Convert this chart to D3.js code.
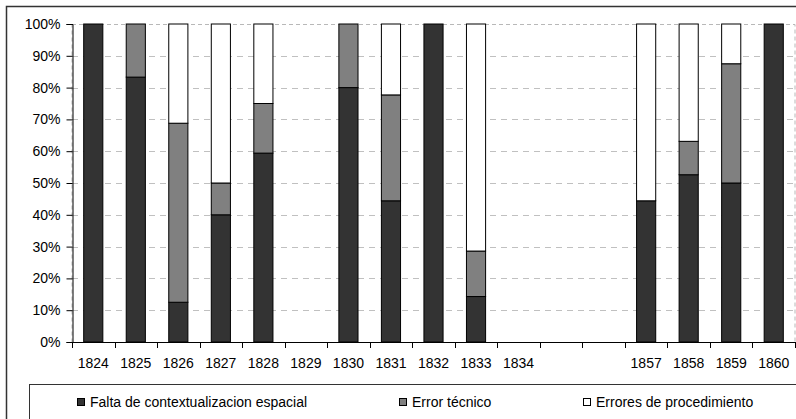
<!DOCTYPE html>
<html>
<head>
<meta charset="utf-8">
<script src="https://cdn.jsdelivr.net/npm/d3@7"></script>
<style>
  body { margin: 0; background: #fff; }
  svg { display: block; font-family: "Liberation Sans", Arial, sans-serif; }
</style>
</head>
<body>
<svg id="chart" width="796" height="419"></svg>
<script>
// years (two empty slots between 1834 and 1857)
const years = ['1824', '1825', '1826', '1827', '1828', '1829', '1830', '1831', '1832', '1833', '1834', '', '', '1857', '1858', '1859', '1860'];
const falta = [100, 83.3, 12.5, 40, 59.4, 0, 80, 44.4, 100, 14.3, 0, 0, 0, 44.4, 52.6, 50, 100];
const tecnico = [0, 16.7, 56.3, 10, 15.6, 0, 20, 33.3, 0, 14.3, 0, 0, 0, 0, 10.5, 37.5, 0];
const procedimiento = [0, 0, 31.2, 50, 25, 0, 0, 22.3, 0, 71.4, 0, 0, 0, 55.6, 36.9, 12.5, 0];
const yTicks = [0, 10, 20, 30, 40, 50, 60, 70, 80, 90, 100];

const seriesNames = ['Falta de contextualizacion espacial', 'Error técnico', 'Errores de procedimiento'];
const colors = ['#333333', '#808080', '#ffffff'];

const rows = years.map((yr, i) => ({ i, falta: falta[i], tecnico: tecnico[i], procedimiento: procedimiento[i] }));
const stack = d3.stack().keys(['falta', 'tecnico', 'procedimiento']);
const stacked = stack(rows);

const FONT = 14;
const svg = d3.select('#chart');

// outer chart border
svg.append('rect')
  .attr('x', 6.5).attr('y', 6.5)
  .attr('width', 800).attr('height', 420)
  .attr('fill', 'none').attr('stroke', '#333').attr('stroke-width', 1.5);

const x = d3.scaleBand().domain(d3.range(years.length)).range([72, 795]).padding(0);
const y = d3.scaleLinear().domain([0, 100]).range([342, 24]);

// plot area border (dashed)
svg.append('rect')
  .attr('x', 72).attr('y', y(100) + 0.5)
  .attr('width', 723).attr('height', y(0) - y(100))
  .attr('fill', 'none').attr('stroke', '#b8b8b8').attr('stroke-dasharray', '4,3');

// grid
svg.append('g').selectAll('line')
  .data(yTicks.filter(d => d > 0 && d < 100))
  .join('line')
  .attr('x1', 72).attr('x2', 795)
  .attr('y1', d => Math.round(y(d)) + 0.5).attr('y2', d => Math.round(y(d)) + 0.5)
  .attr('stroke', '#c0c0c0').attr('stroke-dasharray', '6,5');

// bars
const barW = x.bandwidth() * 0.45;
svg.append('g').selectAll('g')
  .data(stacked)
  .join('g')
  .attr('fill', (d, k) => colors[k])
  .selectAll('rect')
  .data(d => d.filter(s => s[1] - s[0] > 0))
  .join('rect')
  .attr('x', s => x(s.data.i) + (x.bandwidth() - barW) / 2)
  .attr('y', s => y(s[1]))
  .attr('width', barW)
  .attr('height', s => y(s[0]) - y(s[1]))
  .attr('stroke', '#000').attr('stroke-width', 1);

// y axis
const yAxis = svg.append('g')
  .attr('transform', 'translate(72.5,0)')
  .call(d3.axisLeft(y).tickValues(yTicks).tickSize(6).tickPadding(6).tickFormat(d => d + '%'));
yAxis.select('.domain').attr('stroke', '#000');
yAxis.selectAll('text').attr('font-size', FONT).attr('fill', '#000').attr('font-family', 'Liberation Sans, Arial, sans-serif');

// x axis: line, ticks at category boundaries, centered labels
const xg = svg.append('g');
xg.append('line')
  .attr('x1', 72).attr('x2', 795)
  .attr('y1', 342.5).attr('y2', 342.5)
  .attr('stroke', '#000');
xg.selectAll('line.tick')
  .data(d3.range(years.length + 1))
  .join('line')
  .attr('class', 'tick')
  .attr('x1', i => Math.round(i < years.length ? x(i) : x(i - 1) + x.bandwidth()) + 0.5)
  .attr('x2', i => Math.round(i < years.length ? x(i) : x(i - 1) + x.bandwidth()) + 0.5)
  .attr('y1', 342).attr('y2', 348)
  .attr('stroke', '#000');
xg.selectAll('text')
  .data(years)
  .join('text')
  .attr('x', (d, i) => x(i) + x.bandwidth() / 2)
  .attr('y', 368)
  .attr('text-anchor', 'middle')
  .attr('font-size', FONT)
  .text(d => d);

// legend
svg.append('rect')
  .attr('x', 29.5).attr('y', 384.5)
  .attr('width', 800).attr('height', 60)
  .attr('fill', '#fff').attr('stroke', '#333').attr('stroke-width', 1);

const legendX = [77, 399, 583];
const leg = svg.append('g').selectAll('g')
  .data(seriesNames)
  .join('g')
  .attr('transform', (d, k) => `translate(${legendX[k]},402)`);
leg.append('rect')
  .attr('x', 0.5).attr('y', -3.5)
  .attr('width', 7).attr('height', 7)
  .attr('fill', (d, k) => colors[k])
  .attr('stroke', '#000');
leg.append('text')
  .attr('x', 13).attr('y', 5)
  .attr('font-size', FONT)
  .text(d => d);
</script>
</body>
</html>
